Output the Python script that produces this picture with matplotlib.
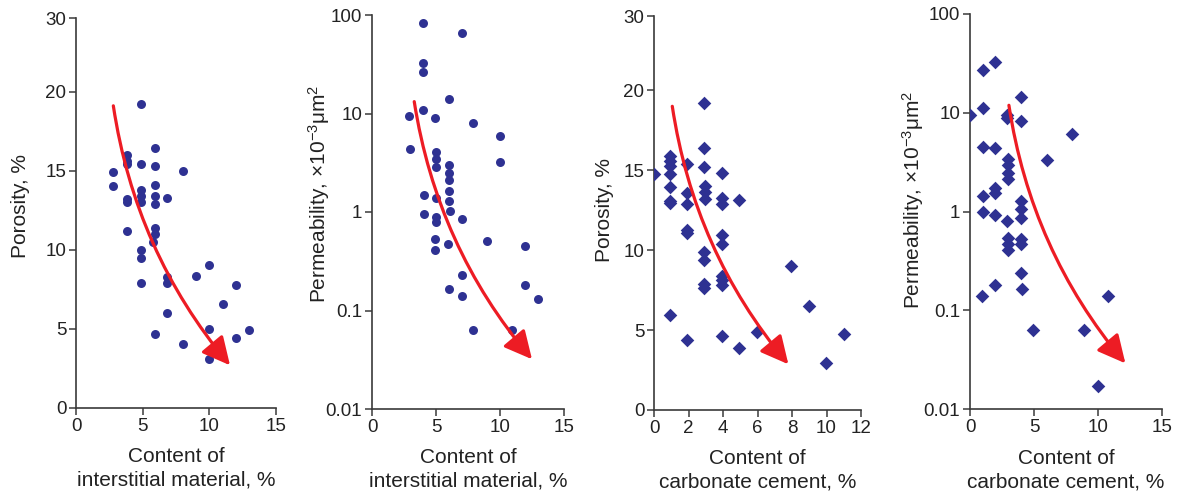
import numpy as np
import matplotlib
matplotlib.use('Agg')
import matplotlib.pyplot as plt
from matplotlib.ticker import FixedLocator, FixedFormatter, NullLocator

plt.rcParams['font.family'] = ['Liberation Sans', 'DejaVu Sans']
plt.rcParams['mathtext.fontset'] = 'custom'
plt.rcParams['mathtext.rm'] = 'Liberation Sans'
plt.rcParams['mathtext.it'] = 'Liberation Sans'

# (a) interstitial material vs porosity
inter_x1 = [2.8, 2.8, 4.9, 3.8, 3.8, 3.8, 4.9, 5.9, 5.9, 5.9, 8.0, 4.9, 4.9, 4.9, 3.8, 3.8,
            5.9, 5.9, 6.85, 3.8, 5.9, 5.9, 5.8, 4.9, 4.9, 4.9, 6.85, 6.85, 9.0, 10.0, 12.0,
            11.0, 6.85, 5.9, 8.0, 10.0, 10.0, 12.0, 12.95]
poro_1 = [14.9, 14.06, 19.2, 15.96, 15.6, 15.4, 15.4, 16.45, 15.3, 14.1, 15.0, 13.8, 13.4, 13.0,
          13.2, 13.0, 13.4, 12.9, 13.25, 11.2, 11.35, 11.0, 10.5, 10.0, 9.5, 7.9, 8.3, 7.9, 8.35,
          9.05, 7.8, 6.6, 6.0, 4.65, 4.05, 4.97, 3.1, 4.45, 4.9]

# (b) interstitial material vs permeability
inter_x2 = [3.97, 7.0, 4.0, 4.0, 6.0, 4.0, 2.9, 4.9, 7.9, 10.0, 3.0, 5.0, 5.0, 5.0, 6.05, 6.05,
            6.05, 6.05, 6.05, 6.1, 10.0, 4.08, 5.0, 4.08, 5.0, 5.0, 7.0, 4.95, 9.0, 4.95, 5.97,
            11.95, 7.06, 6.0, 7.06, 11.95, 13.0, 7.9, 10.9]
perm_2 = [83.6, 66, 32.9, 26.6, 14, 10.9, 9.4, 8.95, 8.0, 5.9, 4.37, 4.1, 3.44, 2.83, 2.98, 2.48,
          2.1, 1.65, 1.28, 1.03, 3.2, 1.49, 1.40, 0.95, 0.90, 0.80, 0.85, 0.53, 0.51, 0.41, 0.475,
          0.454, 0.229, 0.165, 0.141, 0.181, 0.130, 0.0638, 0.0638]

# (c) carbonate cement vs porosity
carb_x3 = [0, 0.9, 0.9, 0.9, 0.9, 0.9, 0.9, 0.9, 0.9, 1.93, 1.93, 1.93, 1.93, 1.93, 1.93,
           2.9, 2.9, 2.9, 2.96, 2.96, 2.96, 2.9, 2.9, 2.9, 2.9, 3.96, 3.96, 3.96, 3.96, 3.96,
           3.96, 3.96, 3.96, 3.96, 4.95, 4.95, 5.99, 7.94, 8.99, 11.0, 9.95]
poro_3 = [14.79, 15.9, 15.55, 15.27, 14.74, 13.95, 13.05, 12.93, 5.92, 15.37, 13.58, 12.87, 11.24,
          11.07, 4.36, 19.23, 16.41, 15.18, 14.04, 13.66, 13.2, 9.89, 9.4, 7.9, 7.65, 14.85, 13.28,
          12.87, 10.93, 10.4, 8.36, 8.11, 7.8, 4.61, 13.12, 3.88, 4.88, 9.0, 6.5, 4.78, 2.96]

# (d) carbonate cement vs permeability
carb_x4 = [0, 1.04, 1.95, 0.99, 0.99, 1.95, 0.99, 1.95, 1.95, 0.99, 1.95, 0.91, 1.95, 2.91, 2.91,
           2.99, 2.99, 2.99, 2.99, 2.91, 2.99, 2.99, 2.99, 3.98, 3.95, 3.98, 3.98, 3.98, 3.98,
           3.98, 3.98, 4.08, 4.89, 5.98, 8.0, 8.89, 10.79, 9.98]
perm_4 = [9.57, 27.3, 32.7, 11.2, 4.47, 4.4, 1.45, 1.73, 1.54, 1.0, 0.92, 0.14, 0.18, 9.4, 8.8,
          3.4, 2.98, 2.45, 2.15, 0.81, 0.54, 0.47, 0.41, 14.4, 8.3, 1.27, 1.06, 0.86, 0.53, 0.47,
          0.238, 0.164, 0.0627, 3.35, 6.04, 0.0636, 0.138, 0.0172]

# trend arrows: (start, tip)
arrow_1 = [(2.8, 19.1), (11.55, 2.7)]
arrow_2 = [(3.3, 13.2), (12.5, 0.032)]
arrow_3 = [(1.06, 19.0), (7.79, 2.86)]
arrow_4 = [(3.04, 11.9), (12.14, 0.029)]

poro_ticks = [0, 5, 10, 15, 20, 24.65]
poro_labels = ['0', '5', '10', '15', '20', '30']

x_label_1 = 'Content of\ninterstitial material, %'
x_label_2 = 'Content of\ncarbonate cement, %'
perm_label = r'Permeability, ×10$^{-3}$μm$^2$'

navy = '#2e3192'
red = '#ed1c24'
axcol = '#3a3a3a'

fig = plt.figure(figsize=(11.85, 4.95), dpi=100)
W, H = 1185, 495

def make_ax(l, r, t, b):
    return fig.add_axes([l / W, 1 - b / H, (r - l) / W, (b - t) / H])

def style(ax):
    for s in ['top', 'right']:
        ax.spines[s].set_visible(False)
    for s in ['left', 'bottom']:
        ax.spines[s].set_color(axcol)
        ax.spines[s].set_linewidth(1.2)
    ax.tick_params(direction='out', length=5, width=1.1, color=axcol,
                   labelsize=13.5, labelcolor='#222222', pad=2)
    ax.yaxis.set_minor_locator(NullLocator())

def trend(ax, pts):
    ax.annotate('', xy=pts[1], xytext=pts[0],
                arrowprops=dict(arrowstyle='-|>,head_length=1.0,head_width=0.5',
                                connectionstyle='arc3,rad=0.14', color=red,
                                lw=2.3, mutation_scale=17, shrinkA=0, shrinkB=0))

ax1 = make_ax(76, 276, 18, 408)
ax1.scatter(inter_x1, poro_1, s=42, marker='o', color=navy, zorder=3, linewidths=0)
trend(ax1, arrow_1)
ax1.set_xlim(0, 15)
ax1.set_ylim(0, 24.65)
ax1.set_xticks([0, 5, 10, 15])
ax1.yaxis.set_major_locator(FixedLocator(poro_ticks))
ax1.yaxis.set_major_formatter(FixedFormatter(poro_labels))
ax1.set_ylabel('Porosity, %', fontsize=15)
ax1.yaxis.set_label_coords(-0.23, 0.518)
ax1.xaxis.set_label_coords(0.455, -0.10)

ax2 = make_ax(372, 564, 15, 409)
ax2.scatter(inter_x2, perm_2, s=42, marker='o', color=navy, zorder=3, linewidths=0)
ax2.set_yscale('log')
trend(ax2, arrow_2)
ax2.set_xlim(0, 15)
ax2.set_ylim(0.01, 100)
ax2.set_xticks([0, 5, 10, 15])
ax2.set_yticks([0.01, 0.1, 1, 10, 100])
ax2.set_yticklabels(['0.01', '0.1', '1', '10', '100'])
ax2.set_ylabel(perm_label, fontsize=15)
ax2.yaxis.set_label_coords(-0.21, 0.546)
ax2.xaxis.set_label_coords(0.5, -0.10)

ax3 = make_ax(654, 861, 16, 410)
ax3.scatter(carb_x3, poro_3, s=48, marker='D', color=navy, zorder=3, linewidths=0)
trend(ax3, arrow_3)
ax3.set_xlim(0, 12)
ax3.set_ylim(0, 24.65)
ax3.set_xticks([0, 2, 4, 6, 8, 10, 12])
ax3.yaxis.set_major_locator(FixedLocator(poro_ticks))
ax3.yaxis.set_major_formatter(FixedFormatter(poro_labels))
ax3.set_ylabel('Porosity, %', fontsize=15)
ax3.yaxis.set_label_coords(-0.195, 0.508)
ax3.xaxis.set_label_coords(0.546, -0.10)

ax4 = make_ax(970, 1162, 14, 409)
ax4.scatter(carb_x4, perm_4, s=48, marker='D', color=navy, zorder=3, linewidths=0)
ax4.set_yscale('log')
trend(ax4, arrow_4)
ax4.set_xlim(0, 15)
ax4.set_ylim(0.01, 100)
ax4.set_xticks([0, 5, 10, 15])
ax4.set_yticks([0.01, 0.1, 1, 10, 100])
ax4.set_yticklabels(['0.01', '0.1', '1', '10', '100'])
ax4.set_ylabel(perm_label, fontsize=15)
ax4.yaxis.set_label_coords(-0.23, 0.529)
ax4.xaxis.set_label_coords(0.547, -0.10)

for ax, lab in [(ax1, x_label_1), (ax2, x_label_1), (ax3, x_label_2), (ax4, x_label_2)]:
    style(ax)
    ax.set_xlabel(lab, fontsize=15, linespacing=1.3, color='#222222')
    ax.yaxis.label.set_color('#222222')
    ax.xaxis.label.set_va('top')

fig.savefig('out.png', dpi=100)
